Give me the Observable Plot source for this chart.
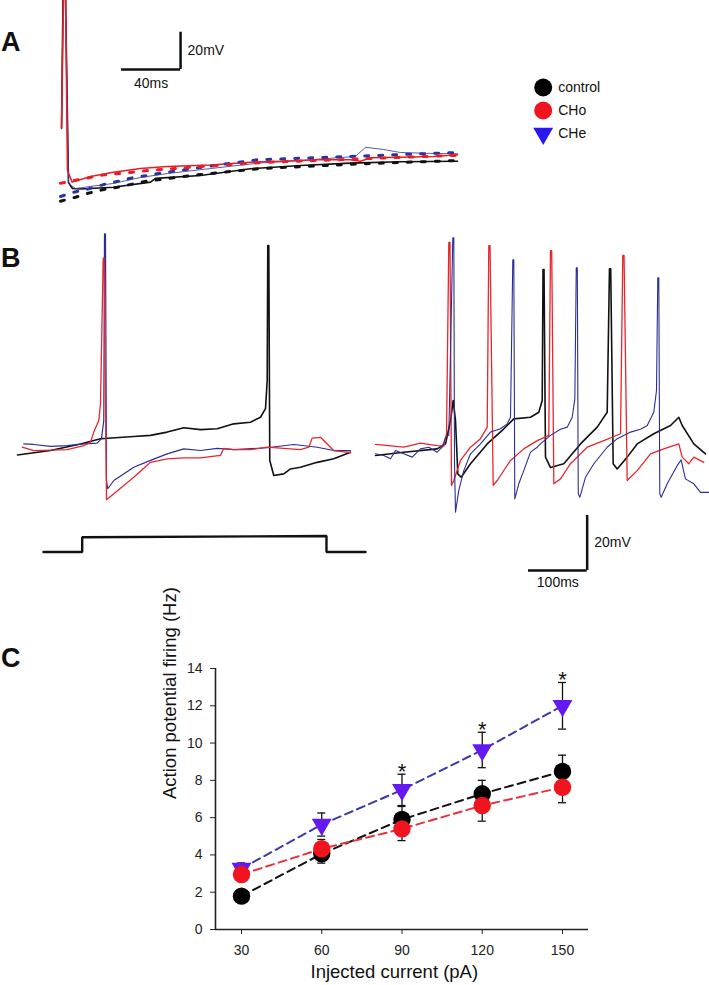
<!DOCTYPE html>
<html><head><meta charset="utf-8">
<script src="https://cdn.jsdelivr.net/npm/d3@7"></script>
<script src="https://cdn.jsdelivr.net/npm/@observablehq/plot@0.6"></script>
<style>
html,body{margin:0;padding:0;background:#fff;}
#fig{position:relative;width:709px;height:985px;overflow:hidden;font-family:"Liberation Sans",Arial,Helvetica,sans-serif;color:#111;}
.lab{position:absolute;font-weight:bold;font-size:27px;line-height:27px;}
</style></head><body>
<div id="fig">
  <div class="lab" style="left:1px;top:29px">A</div>
  <div class="lab" style="left:1px;top:245px">B</div>
  <div class="lab" style="left:1px;top:645px">C</div>
</div>
<script>
// ---------------- Panel A: single spike + AHP (time ms, membrane potential mV) ----------------
const aTraceControl = [[0.7,-37.8],[1.7,33],[3.4,33],[5.4,-66.8],[8.1,-70],[13.6,-70.3],[35.9,-69.3],[61,-66.6],[64.4,-64.6],[94.9,-63],[128.8,-59.4],[162.7,-57.7],[196.6,-56.4],[230.5,-55.7],[269.2,-55.4]];
const aTraceCHo = [[0.7,-37.3],[2.0,33],[3.4,33],[4.7,-60.4],[7.9,-66.6],[20.3,-63.6],[35.9,-61.3],[54.2,-59.3],[72.3,-58.2],[101.7,-57.4],[128.8,-55.9],[151.2,-55.4],[174.2,-54.6],[196.6,-54.6],[203.4,-55.4],[210.2,-53.5],[230.5,-53.2],[252.9,-52.8],[269.2,-51.9]];
const aTraceCHe = [[0.7,-37.8],[1.8,33],[3.4,33],[5.4,-67.3],[10.2,-70],[20.3,-68.9],[35.9,-67.3],[54.2,-64.1],[72.3,-62],[101.7,-59.3],[135.6,-56.3],[162.7,-55],[200,-52.8],[206.8,-47.9],[219,-49.1],[230.5,-50.7],[250.9,-51.2],[269.2,-51.4]];
const aFitControl = [[0,-76.8],[10.2,-74.7],[19,-72.5],[28.5,-70.7],[38.6,-69.3],[57.6,-66.2],[94.9,-62.5],[135.6,-59.3],[203.4,-56.8],[269.2,-55]];
const aFitCHo = [[0,-67.2],[29.2,-62.7],[48.6,-61.3],[58.8,-60.4],[94.9,-58.2],[135.6,-56.1],[203.4,-54.1],[269.2,-52.2]];
const aFitCHe = [[0,-74.3],[9,-72],[19,-70.2],[29.2,-67.9],[38.6,-66.2],[48.6,-64.3],[58.8,-63],[67.8,-61.8],[94.9,-58.7],[133.4,-54.6],[203.4,-52.6],[269.2,-50.7]];
const scaleA = {t: 81.4, v: -6.2, ms: 40, mV: 20};

// ---------------- Panel B: spike trains (time ms, mV) ----------------
const bLeftControl = [[0,-66.6],[56.2,-65],[107.3,-62.6],[141.4,-60.7],[198.1,-59.9],[226.6,-59.5],[255,-58.3],[283.3,-56.7],[311.8,-57.4],[340.2,-57.1],[368.5,-55.3],[396.9,-54.7],[414,-52.9],[422.5,-49.8],[425.4,-39.5],[426.4,9.5],[428.1,9.5],[429.8,-68.6],[436.6,-74.1],[453.7,-73.5],[465.1,-71.7],[482.1,-71.1],[510.6,-69.3],[538.8,-68],[567.3,-65.6]];
const bLeftCHo = [[8,-63.8],[27.8,-65],[84.7,-64.7],[112.9,-63.2],[124.4,-62],[130,-58.3],[138.5,-54.1],[141.4,-48],[146,4.9],[147.5,4.9],[151.6,-82.9],[164.1,-80.7],[198.1,-74.7],[226.6,-69.3],[255,-68],[283.3,-67.7],[311.8,-67.7],[345.8,-66.8],[351.5,-64.2],[368.5,-64.7],[396.9,-64.7],[425.4,-63.8],[453.7,-64.2],[482.1,-64.7],[496.3,-63.8],[502,-60.5],[516.2,-60.2],[527.6,-62.6],[538.8,-65],[567.3,-65.8]];
const bLeftCHe = [[10.7,-62.6],[27.8,-62.8],[56.2,-63.5],[84.7,-63.2],[112.9,-62.6],[135.8,-62.3],[143.1,-60.7],[147,-54.1],[148.2,13.8],[149.9,13.8],[151.6,-75.9],[153.8,-78.9],[164.1,-75.9],[198.1,-71.1],[226.6,-68.6],[255,-66.2],[283.3,-64.4],[311.8,-65],[340.2,-64.2],[368.5,-64.7],[425.4,-64],[470.7,-62.8],[510.6,-63.8],[538.8,-65],[567.3,-65]];
const bRightControl = [[0,-66.8],[48.2,-65.6],[105.1,-64.4],[119.3,-62.6],[127.8,-54.1],[132.4,-46.8],[136.3,-54.1],[140.2,-73.5],[146,-74.7],[161.8,-69.8],[190.3,-62.6],[218.6,-57.1],[235.6,-53.5],[264.1,-52.9],[278.2,-51.1],[284,-46.8],[285.4,0.8],[287.1,0.8],[289.6,-67.4],[298.1,-71.2],[320.8,-69.8],[349.2,-62.6],[377.7,-56.5],[394.7,-51.1],[398.6,1.1],[400.7,1.1],[404.9,-69.8],[411.8,-71.7],[428.8,-67.4],[445.8,-62.6],[474.1,-58.9],[502.6,-55.9],[516.7,-52.9],[522.5,-55.9],[542.3,-62.6],[562.2,-66.2]];
const bRightCHo = [[0,-62.8],[48.2,-63.8],[76.7,-62.3],[105.1,-63.2],[116.4,-63.4],[121,-58.9],[124.9,10.7],[126.9,10.7],[129.5,-77.7],[133.4,-75.9],[144.8,-68.6],[161.8,-63.8],[178.9,-60.7],[190.3,-56.5],[193,9.5],[195.1,9.5],[200.5,-77.7],[207.3,-75.9],[230,-68.6],[252.6,-64.4],[275.5,-61.4],[295.2,-59.5],[298.1,7.7],[300.2,7.7],[303.8,-77.1],[315.2,-75.3],[332.2,-69.8],[360.7,-63.8],[389,-61.4],[417.4,-58.9],[421.3,5.9],[423.4,5.9],[428.8,-75.9],[445.8,-72.3],[468.5,-66.2],[491.1,-64.4],[516.7,-62.6],[522.5,-67.4],[533.7,-69.8],[542.3,-67.4],[559.3,-69.3]];
const bRightCHe = [[0,-66.2],[14.1,-66.8],[25.6,-68],[34.1,-65],[48.2,-66.2],[62.5,-67.4],[76.7,-64.4],[90.8,-63.8],[105.1,-65.6],[113.6,-63.8],[119.3,-60.2],[124.9,-59.5],[131.7,12.3],[133.4,12.3],[134.6,-69.8],[136.3,-87.4],[141.9,-79.5],[150.4,-72.3],[161.8,-66.2],[178.9,-62.6],[195.9,-58.3],[212.9,-57.1],[224.4,-55.3],[230,-52.9],[233.9,4.3],[235.6,4.3],[237.3,-82.6],[244.1,-77.1],[252.6,-72.3],[264.1,-65.6],[275.5,-63.8],[281.1,-62.6],[298.1,-59.5],[315.2,-57.3],[326.6,-56.5],[335.1,-52.9],[339.6,-46.2],[342,1.4],[343.8,1.4],[345.4,-80.7],[348.1,-82],[357.8,-74.7],[372,-69.8],[394.7,-63.8],[411.8,-60.7],[434.5,-58.3],[451.5,-57.3],[462.9,-55.9],[474.1,-51.1],[478.7,-43.2],[480.9,-2.2],[482.6,-2.2],[484.3,-80.7],[486.7,-82],[496.9,-77.1],[513.9,-70.5],[520.7,-68.4],[528,-75.3],[542.3,-77.1],[553.7,-80.2],[569,-80.2]];
const stimulus = [[44.3,0],[110.2,0],[110.2,29.6],[526.4,32],[526.4,0],[592.9,0]]; // pA
const scaleB = {t: 360.6, v: -108.6, ms: 100, mV: 20};

// ---------------- Panel C: firing frequency ----------------
const currents = [30, 60, 90, 120, 150];          // pA
const controlMean = [1.79, 4.06, 5.9, 7.28, 8.48];
const controlSem  = [0.2, 0.5, 0.7, 0.72, 0.87];
const choMean = [2.95, 4.33, 5.4, 6.65, 7.63];
const choSem  = [0.3, 0.5, 0.63, 0.84, 0.83];
const cheMean = [3.27, 5.63, 7.49, 9.63, 12.0];
const cheSem  = [0.3, 0.62, 0.84, 0.95, 1.25];
const cheSig  = ["", "", "*", "*", "*"];
const yTicks = [0, 2, 4, 6, 8, 10, 12, 14];
const groups = ["control", "CHo", "CHe"];

const COL = {control: "#111111", CHo: "#ec1c24", CHe: "#2b2f95"};
const FONT = "Liberation Sans, Arial, Helvetica, sans-serif";

function mount(svg, left, top) {
  const d = document.createElement("div");
  d.style.cssText = `position:absolute;left:${left}px;top:${top}px;`;
  d.appendChild(svg);
  document.getElementById("fig").appendChild(d);
}
const base = {style: {background: "transparent", overflow: "visible", fontFamily: FONT, color: "#111"},
  marginTop: 0, marginRight: 0, marginBottom: 0, marginLeft: 0};
const tr = (data, stroke, w, extra = {}) =>
  Plot.line(data, {x: d => d[0], y: d => d[1], stroke, strokeWidth: w, strokeLinejoin: "round", ...extra});

// Panel A
mount(Plot.plot({...base, width: 470, height: 210,
  x: {domain: [-40.68, 277.97], axis: null},
  y: {domain: [-81.8, 30.8], axis: null},
  marks: [
    tr(aTraceControl, COL.control, 1.6, {clip: true}),
    tr(aTraceCHe, "#3d4aa8", 0.9, {clip: true}),
    tr(aTraceCHo, COL.CHo, 1.5, {clip: true}),
    tr(aFitControl, COL.control, 3, {strokeDasharray: "4,10"}),
    tr(aFitCHe, "#2b35a0", 3, {strokeDasharray: "4,10"}),
    tr(aFitCHo, COL.CHo, 3, {strokeDasharray: "4,10"}),
    Plot.ruleX([scaleA], {x: "t", y1: "v", y2: d => d.v + d.mV, strokeWidth: 2.5, stroke: "#111"}),
    Plot.ruleY([scaleA], {y: "v", x1: d => d.t - d.ms, x2: "t", strokeWidth: 2.5, stroke: "#111"}),
    Plot.text([scaleA], {x: "t", y: d => d.v + d.mV / 2, text: d => `${d.mV}mV`, dx: 7, textAnchor: "start", fontSize: 14, fill: "#111"}),
    Plot.text([scaleA], {x: d => d.t - d.ms / 2, y: "v", text: d => `${d.ms}ms`, dy: 14, fontSize: 14, fill: "#111"})
  ]}), 0, 0);

// Legend
const legendRows = groups.map(g => ({g}));
mount(Plot.plot({...base, width: 120, height: 80,
  x: {domain: [0, 1], range: [0, 120], axis: null},
  y: {type: "point", domain: groups, range: [14.7, 61.9], padding: 0, axis: null},
  marks: [
    Plot.dot(legendRows.filter(d => d.g === "control"), {y: "g", frameAnchor: "left", dx: 17.7, r: 9, fill: "#000", stroke: "none"}),
    Plot.dot(legendRows.filter(d => d.g === "CHo"), {y: "g", frameAnchor: "left", dx: 17.7, r: 9, fill: "#f0141e", stroke: "none"}),
    Plot.dot(legendRows.filter(d => d.g === "CHe"), {y: "g", frameAnchor: "left", dx: 17.7, r: 7.4, symbol: "triangle", rotate: 180, fill: "#2a17ee", stroke: "none"}),
    Plot.text(legendRows, {y: "g", frameAnchor: "left", dx: 32.7, text: "g", textAnchor: "start", fontSize: 14, fill: "#111"})
  ]}), 525, 72);

// Panel B left
mount(Plot.plot({...base, width: 370, height: 370,
  x: {domain: [-28.96, 601.4], axis: null},
  y: {domain: [-117.7, 16.8], axis: null},
  marks: [
    tr(bLeftControl, COL.control, 1.6),
    tr(bLeftCHe, COL.CHe, 1.2),
    tr(bLeftCHo, "#e8262b", 1.3)
  ]}), 0, 225);

// Stimulus
mount(Plot.plot({...base, width: 370, height: 40,
  x: {domain: [-28.96, 601.4], axis: null},
  y: {domain: [-27, 53], axis: null},
  marks: [tr(stimulus, "#111", 2.4, {strokeLinejoin: "miter"})]}), 0, 525);

// Panel B right
mount(Plot.plot({...base, width: 339, height: 370,
  x: {domain: [-8.52, 569.0], axis: null},
  y: {domain: [-117.7, 16.8], axis: null},
  marks: [
    tr(bRightControl, COL.control, 1.6),
    tr(bRightCHo, "#e8262b", 1.3),
    tr(bRightCHe, COL.CHe, 1.1),
    Plot.ruleX([scaleB], {x: "t", y1: "v", y2: d => d.v + d.mV, strokeWidth: 2.5, stroke: "#111"}),
    Plot.ruleY([scaleB], {y: "v", x1: d => d.t - d.ms, x2: "t", strokeWidth: 2.5, stroke: "#111"}),
    Plot.text([scaleB], {x: "t", y: d => d.v + d.mV / 2, text: d => `${d.mV}mV`, dx: 7, textAnchor: "start", fontSize: 14, fill: "#111"}),
    Plot.text([scaleB], {x: d => d.t - d.ms / 2, y: "v", text: d => `${d.ms}ms`, dy: 12, fontSize: 14, fill: "#111"})
  ]}), 370, 225);

// Panel C
const rowsOf = (g, mean, sem) => currents.map((c, i) => ({g, current: c, mean: mean[i], sem: sem[i], sig: g === "CHe" ? cheSig[i] : ""}));
const ctrlRows = rowsOf("control", controlMean, controlSem);
const choRows = rowsOf("CHo", choMean, choSem);
const cheRows = rowsOf("CHe", cheMean, cheSem);
const xDom = [20.28, 159.72];
const errMarks = rows => [
  Plot.ruleX(rows, {x: "current", y1: d => d.mean - d.sem, y2: d => d.mean + d.sem, stroke: "#111", strokeWidth: 1.3}),
  Plot.ruleY(rows, {y: d => d.mean + d.sem, x1: d => d.current - 1.5, x2: d => d.current + 1.5, stroke: "#111", strokeWidth: 1.3}),
  Plot.ruleY(rows, {y: d => d.mean - d.sem, x1: d => d.current - 1.5, x2: d => d.current + 1.5, stroke: "#111", strokeWidth: 1.3})
];
mount(Plot.plot({width: 709, height: 365, marginLeft: 215, marginRight: 121, marginTop: 48, marginBottom: 56,
  style: {background: "transparent", overflow: "visible", fontFamily: FONT, fontSize: "14px", color: "#222"},
  x: {domain: xDom, ticks: currents, tickSize: 5, tickPadding: 11, label: null, tickFormat: d => String(d)},
  y: {domain: [0, 14], ticks: yTicks, tickSize: 5, tickPadding: 8, label: null, tickFormat: d => String(d)},
  marks: [
    Plot.ruleY([0], {stroke: "#222", strokeWidth: 1.6}),
    Plot.ruleX([xDom[0]], {stroke: "#222", strokeWidth: 1.6}),
    Plot.line(ctrlRows, {x: "current", y: "mean", stroke: "#111", strokeWidth: 2, strokeDasharray: "8,5"}),
    Plot.line(choRows, {x: "current", y: "mean", stroke: "#e8303a", strokeWidth: 2, strokeDasharray: "8,5"}),
    Plot.line(cheRows, {x: "current", y: "mean", stroke: "#3a3aa8", strokeWidth: 2, strokeDasharray: "8,5"}),
    ...errMarks(ctrlRows), ...errMarks(cheRows), ...errMarks(choRows),
    Plot.dot(ctrlRows, {x: "current", y: "mean", r: 8.7, fill: "#000", stroke: "none"}),
    Plot.dot(cheRows, {x: "current", y: "mean", r: 7.4, symbol: "triangle", rotate: 180, fill: "#6418f2", stroke: "none"}),
    Plot.dot(choRows, {x: "current", y: "mean", r: 8.7, fill: "#f0141e", stroke: "none"}),
    Plot.text(cheRows.filter(d => d.sig), {x: "current", y: d => d.mean + d.sem, text: "sig", lineAnchor: "bottom", dy: 5, fontSize: 22, fill: "#111"}),
    Plot.text(["Action potential firing (Hz)"], {text: d => d, frameAnchor: "left", rotate: -90, dx: -45, fontSize: 18.5, fill: "#111", lineAnchor: "middle"}),
    Plot.text(["Injected current (pA)"], {text: d => d, frameAnchor: "bottom", dx: -7.7, dy: 42.7, fontSize: 18.5, fill: "#111", lineAnchor: "middle"})
  ]}), 0, 620);
</script>
</body></html>
